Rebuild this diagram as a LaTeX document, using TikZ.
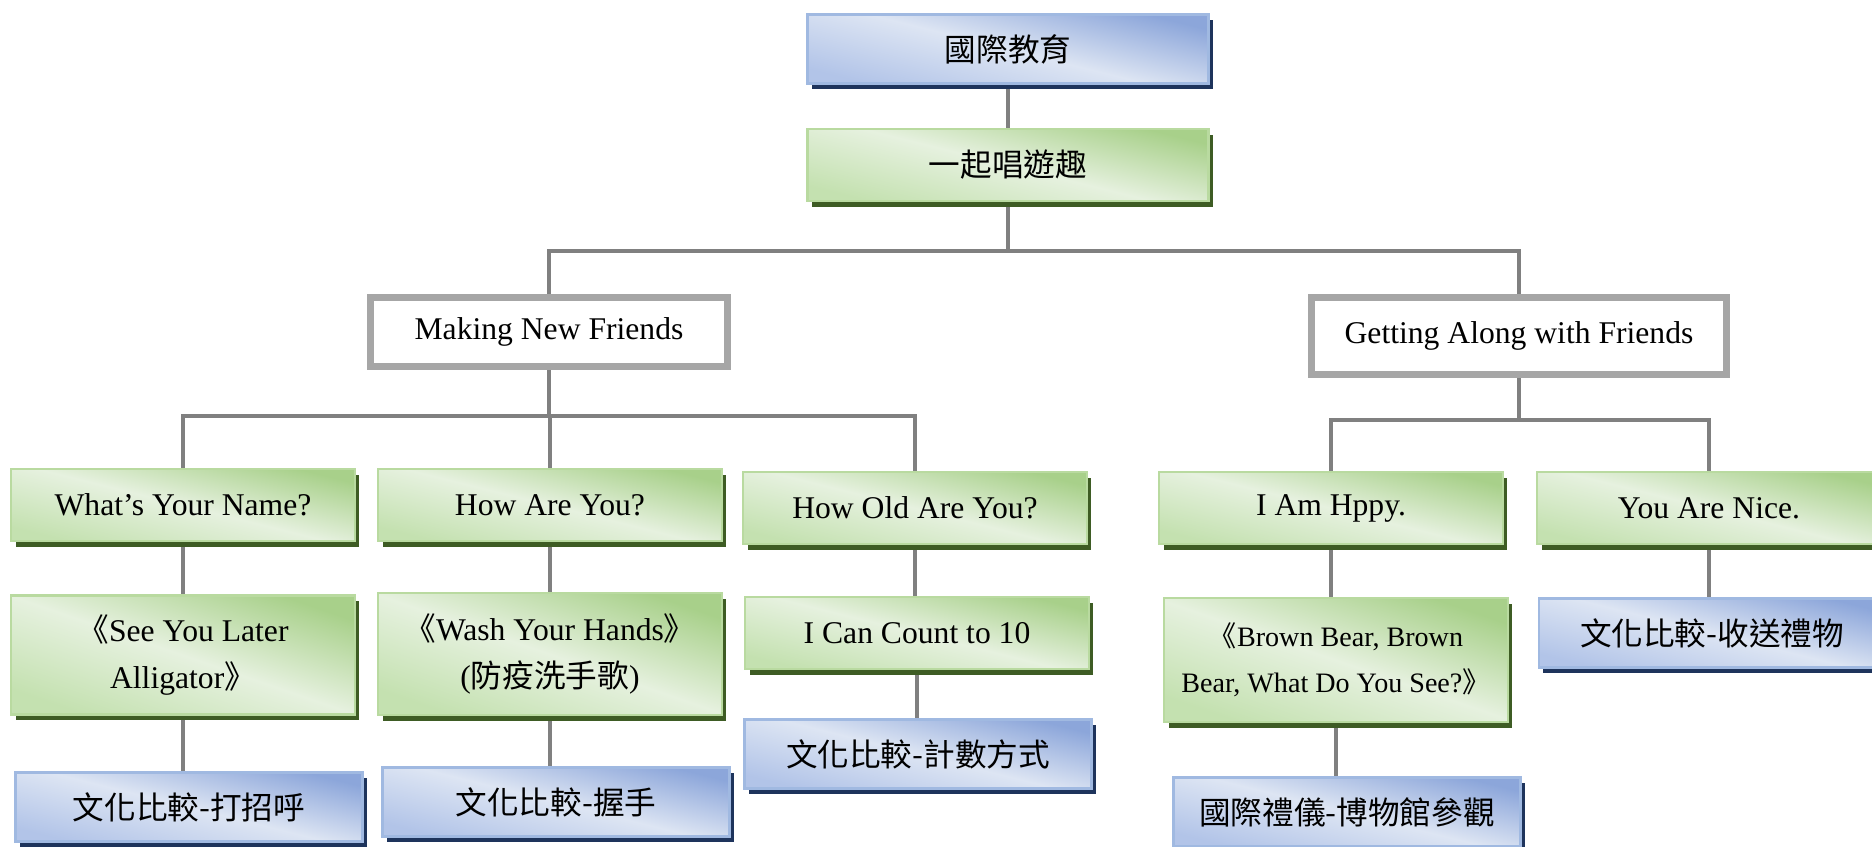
\documentclass[tikz,border=0pt]{standalone}
\usepackage{fontspec}
\setmainfont{Liberation Serif}
\newfontfamily\cjk{Noto Sans CJK TC}
\usetikzlibrary{shadows,backgrounds}

\definecolor{gdark}{RGB}{168,208,138}
\definecolor{gmid}{RGB}{196,225,176}
\definecolor{glight}{RGB}{230,241,223}
\definecolor{gline}{RGB}{185,218,160}
\definecolor{gshade}{RGB}{62,92,36}
\definecolor{bdark}{RGB}{140,166,218}
\definecolor{bmid}{RGB}{178,196,232}
\definecolor{blight}{RGB}{221,229,243}
\definecolor{bline}{RGB}{160,185,225}
\definecolor{bshade}{RGB}{30,52,92}
\definecolor{greyline}{RGB}{166,166,166}
\definecolor{linegrey}{RGB}{128,128,128}

\begin{document}
\begin{tikzpicture}[x=0.02cm, y=-0.02cm,
  box/.style={rectangle, align=center, inner sep=0pt,
    font=\fontsize{18}{27}\selectfont},
  greenbox/.style={box, draw=gline, line width=1.2pt,
    top color=gdark, bottom color=gmid, middle color=glight, shading angle=-14,
    general shadow={shadow xshift=0.09cm, shadow yshift=-0.11cm, fill=gshade},
    minimum width=6.88cm, minimum height=1.44cm},
  bluebox/.style={box, draw=bline, line width=1.2pt,
    top color=bdark, bottom color=bmid, middle color=blight, shading angle=-14,
    general shadow={shadow xshift=0.09cm, shadow yshift=-0.11cm, fill=bshade},
    minimum width=6.94cm, minimum height=1.38cm},
  greybox/.style={box, draw=greyline, line width=4pt, fill=white,
    minimum height=1.38cm},
  link/.style={draw=linegrey, line width=2.3pt}]

\useasboundingbox (0,0) rectangle (1872,846);

% Top
\node[bluebox, minimum width=8.02cm] (root) at (1008,49) {\cjk 國際教育};
\node[greenbox, minimum width=8.02cm] (song) at (1008,165) {\cjk 一起唱遊趣};

% Themes
\node[greybox, minimum width=7.16cm] (mnf) at (549,332) {Making New Friends};
\node[greybox, minimum width=8.32cm, minimum height=1.54cm] (gaf) at (1519,336) {Getting Along with Friends};

% Songs
\node[greenbox] (name) at (183,505) {What’s Your Name?};
\node[greenbox] (how) at (550,505) {How Are You?};
\node[greenbox] (old) at (915,508) {How Old Are You?};
\node[greenbox] (happy) at (1331,508) {I Am Hppy.};
\node[greenbox] (nice) at (1709,508) {You Are Nice.};

% Books
\node[greenbox, minimum height=2.38cm, shading angle=-19] (alli) at (183,655)
  {{\cjk 《}See You Later\\Alligator{\cjk 》}};
\node[greenbox, minimum height=2.44cm, shading angle=-19] (wash) at (550,654)
  {{\cjk 《}Wash Your Hands{\cjk 》}\\({\cjk 防疫洗手歌})};
\node[greenbox] (count) at (917,633) {I Can Count to 10};
\node[greenbox, minimum height=2.48cm, shading angle=-19, font=\fontsize{16}{26}\selectfont] (bear) at (1336,660)
  {{\cjk 《}Brown Bear, Brown\\Bear, What Do You See?{\cjk 》}};
\node[bluebox] (gift) at (1712,633) {\cjk 文化比較-收送禮物};

% Culture
\node[bluebox] (hello) at (189,807) {\cjk 文化比較-打招呼};
\node[bluebox] (shake) at (556,802) {\cjk 文化比較-握手};
\node[bluebox] (countway) at (918,754) {\cjk 文化比較-計數方式};
\node[bluebox] (museum) at (1347,812) {\cjk 國際禮儀-博物館參觀};

% Links
\begin{scope}[on background layer]
\draw[link] (root) -- (song);
\draw[link] (song.south) -- ++(0,49) -| (mnf.north);
\draw[link] (song.south) -- ++(0,49) -| (gaf.north);
\draw[link] (mnf.south) -- ++(0,46) -| (name.north);
\draw[link] (mnf.south) -- ++(0,46) -| (how.north);
\draw[link] (mnf.south) -- ++(0,46) -| (old.north);
\draw[link] (gaf.south) -- ++(0,42) -| (happy.north);
\draw[link] (gaf.south) -- ++(0,42) -| (nice.north);
\draw[link] (name) -- (name |- alli.north);
\draw[link] (how) -- (how |- wash.north);
\draw[link] (old) -- (old |- count.north);
\draw[link] (happy) -- (happy |- bear.north);
\draw[link] (nice) -- (nice |- gift.north);
\draw[link] (alli) -- (alli |- hello.north);
\draw[link] (wash) -- (wash |- shake.north);
\draw[link] (count) -- (count |- countway.north);
\draw[link] (bear) -- (bear |- museum.north);
\end{scope}

\end{tikzpicture}
\end{document}
